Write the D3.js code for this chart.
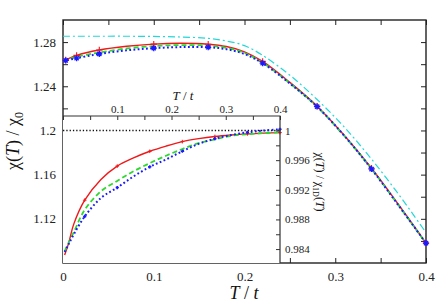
<!DOCTYPE html>
<html>
<head>
<meta charset="utf-8">
<script src="https://cdn.jsdelivr.net/npm/d3@7"></script>
<style>
  body { margin: 0; background: #fff; }
  svg { display: block; font-family: "Liberation Serif", "DejaVu Serif", serif; }
</style>
</head>
<body>
<svg id="chart"></svg>
<script>
// main panel: chi(T)/chi0 against T/t
let tMain = [0, 0.003, 0.015, 0.04, 0.07, 0.1, 0.13, 0.16, 0.18, 0.2, 0.22, 0.25, 0.28, 0.31, 0.34, 0.37, 0.4];
let redMain = [1.2620, 1.2638, 1.2680, 1.2728, 1.2762, 1.2782, 1.2789, 1.2781, 1.2760, 1.2712, 1.2625, 1.2435, 1.2220, 1.1955, 1.1658, 1.1325, 1.0980];
let greenMain = [1.2628, 1.2638, 1.2668, 1.2705, 1.2742, 1.2764, 1.2773, 1.2768, 1.2748, 1.2702, 1.2613, 1.2428, 1.2214, 1.1950, 1.1652, 1.1320, 1.0978];
let blueMain = [1.2630, 1.2634, 1.2654, 1.2693, 1.2725, 1.2745, 1.2755, 1.2753, 1.2736, 1.2692, 1.2609, 1.2425, 1.2216, 1.1952, 1.1650, 1.1318, 1.0980];
let cyanMain = [1.2853, 1.2853, 1.2853, 1.2853, 1.2853, 1.2851, 1.2846, 1.2834, 1.2810, 1.2768, 1.2680, 1.2500, 1.2280, 1.2030, 1.1740, 1.1420, 1.1075];
let markMain = [0.003, 0.015, 0.04, 0.1, 0.16, 0.22, 0.28, 0.34, 0.4];

// inset: chi(T)/chi_1D(T)
let tIn = [0.003, 0.01, 0.02, 0.04, 0.07, 0.1, 0.13, 0.16, 0.19, 0.22, 0.25, 0.28, 0.31, 0.34, 0.37, 0.4];
let redIn = [0.9832, 0.9847, 0.9874, 0.9906, 0.9934, 0.9952, 0.9963, 0.9972, 0.9979, 0.9985, 0.9989, 0.99920, 0.99940, 0.99955, 0.99965, 0.99972];
let greenIn = [0.9837, 0.9848, 0.9863, 0.9893, 0.9918, 0.9932, 0.9945, 0.9956, 0.9966, 0.9975, 0.9983, 0.9988, 0.9993, 0.99950, 0.99965, 0.99976];
let blueIn = [0.9836, 0.9846, 0.9860, 0.9884, 0.9909, 0.9923, 0.9938, 0.9951, 0.9961, 0.9972, 0.9982, 0.9989, 0.9994, 0.99975, 1.0000, 1.00016];
let markIn = [0.04, 0.1, 0.16, 0.22, 0.28, 0.34, 0.4];

let yTicksMain = [1.1, 1.12, 1.14, 1.16, 1.18, 1.2, 1.22, 1.24, 1.26, 1.28];
let yLabelsMain = [1.12, 1.16, 1.2, 1.24, 1.28];
let xTicks = [0, 0.05, 0.1, 0.15, 0.2, 0.25, 0.3, 0.35, 0.4];
let xLabels = [0, 0.1, 0.2, 0.3, 0.4];
let yTicksIn = [0.984, 0.986, 0.988, 0.99, 0.992, 0.994, 0.996, 0.998, 1];
let yLabelsIn = [0.984, 0.988, 0.992, 0.996, 1];
let xLabelsIn = [0.1, 0.2, 0.3, 0.4];

let width = 436;
let height = 306;
let padL = 63, padR = 426, padT = 20, padB = 263;
let inRight = 280, inTop = 116;

let svg = d3.select('#chart').attr('width', width).attr('height', height);

let xScale = d3.scaleLinear().domain([0, 0.4]).range([padL, padR]);
let yScale = d3.scaleLinear().domain([1.08, 1.30]).range([padB, padT]);
let xIn = d3.scaleLinear().domain([0, 0.4]).range([padL, inRight]);
let yIn = d3.scaleLinear().domain([0.98212, 1.00196]).range([padB, inTop]);

let fmt = v => String(+v.toFixed(3));
let isLabel = (list, v) => list.some(l => Math.abs(l - v) < 1e-9);

// main axes
let yAxis = d3.axisLeft(yScale).tickValues(yTicksMain).tickSize(-5).tickPadding(7)
  .tickFormat(v => isLabel(yLabelsMain, v) ? fmt(v) : '');
svg.append('g').attr('transform', 'translate(' + padL + ',0)').call(yAxis);
let yAxisR = d3.axisRight(yScale).tickValues(yTicksMain).tickSize(-5).tickFormat('');
svg.append('g').attr('transform', 'translate(' + padR + ',0)').call(yAxisR);
let xAxis = d3.axisBottom(xScale).tickValues(xTicks).tickSize(-5).tickPadding(9)
  .tickFormat(v => isLabel(xLabels, v) ? fmt(v) : '');
svg.append('g').attr('transform', 'translate(0,' + padB + ')').call(xAxis);
let xAxisT = d3.axisTop(xScale).tickValues(xTicks).tickSize(-5).tickFormat('');
svg.append('g').attr('transform', 'translate(0,' + padT + ')').call(xAxisT);

svg.selectAll('.domain').remove();
svg.selectAll('.tick line').attr('stroke', '#222').attr('stroke-width', 1);
svg.selectAll('.tick text').attr('font-size', 13).attr('fill', '#222')
  .attr('font-family', '"Liberation Serif", serif');

svg.append('rect').attr('x', padL).attr('y', padT)
  .attr('width', padR - padL).attr('height', padB - padT)
  .attr('fill', 'none').attr('stroke', '#222').attr('stroke-width', 1.4);

// series styles
let styles = {
  cyan: { color: '#22d8d8', width: 1.2, dash: '7,3,2,3' },
  red: { color: '#f01818', width: 1.4, dash: null },
  green: { color: '#2ed82e', width: 1.8, dash: '5,3' },
  blue: { color: '#1a1aff', width: 2, dash: '1.8,2.4' }
};

let drawLine = (g, xs, ys, sx, sy, st) => {
  let line = d3.line().x((d, i) => sx(xs[i])).y(d => sy(d)).curve(d3.curveCatmullRom.alpha(0.5));
  g.append('path').datum(ys).attr('d', line)
    .attr('fill', 'none').attr('stroke', st.color).attr('stroke-width', st.width)
    .attr('stroke-dasharray', st.dash);
};

let plus = s => 'M' + (-s) + ',0H' + s + 'M0,' + (-s) + 'V' + s;
let star = s => plus(s) + 'M' + (-s * 0.7) + ',' + (-s * 0.7) + 'L' + (s * 0.7) + ',' + (s * 0.7)
  + 'M' + (-s * 0.7) + ',' + (s * 0.7) + 'L' + (s * 0.7) + ',' + (-s * 0.7);

let drawMarks = (g, xs, ys, marks, sx, sy, shape, color, w) => {
  let pts = xs.map((t, i) => [t, ys[i]]).filter(p => isLabel(marks, p[0]));
  g.selectAll(null).data(pts).enter().append('path')
    .attr('d', shape)
    .attr('transform', p => 'translate(' + sx(p[0]) + ',' + sy(p[1]) + ')')
    .attr('fill', 'none').attr('stroke', color).attr('stroke-width', w);
};

let main = svg.append('g');
drawLine(main, tMain, cyanMain, xScale, yScale, styles.cyan);
drawLine(main, tMain, redMain, xScale, yScale, styles.red);
drawLine(main, tMain, greenMain, xScale, yScale, styles.green);
drawLine(main, tMain, blueMain, xScale, yScale, styles.blue);
drawMarks(main, tMain, redMain, markMain, xScale, yScale, plus(3.2), styles.red.color, 1.1);
drawMarks(main, tMain, blueMain, markMain, xScale, yScale, star(3), styles.blue.color, 1.3);

// inset
let inset = svg.append('g');
inset.append('rect').attr('x', padL).attr('y', inTop)
  .attr('width', inRight - padL).attr('height', padB - inTop).attr('fill', '#fff');

inset.append('line').attr('x1', padL).attr('x2', inRight)
  .attr('y1', yIn(1)).attr('y2', yIn(1))
  .attr('stroke', '#111').attr('stroke-width', 1.3).attr('stroke-dasharray', '1.3,2');

drawLine(inset, tIn, redIn, xIn, yIn, styles.red);
drawLine(inset, tIn, greenIn, xIn, yIn, styles.green);
drawLine(inset, tIn, blueIn, xIn, yIn, styles.blue);
drawMarks(inset, tIn, redIn, markIn, xIn, yIn, plus(1.8), styles.red.color, 1);
drawMarks(inset, tIn, blueIn, markIn, xIn, yIn, plus(1.6), styles.blue.color, 1.5);

let xAxisIn = d3.axisTop(xIn).tickValues(xTicks).tickSize(-4).tickPadding(3)
  .tickFormat(v => isLabel(xLabelsIn, v) ? fmt(v) : '');
inset.append('g').attr('transform', 'translate(0,' + inTop + ')').call(xAxisIn);
let yAxisIn = d3.axisRight(yIn).tickValues(yTicksIn).tickSize(-4).tickPadding(5)
  .tickFormat(v => isLabel(yLabelsIn, v) ? fmt(v) : '');
inset.append('g').attr('transform', 'translate(' + inRight + ',0)').call(yAxisIn);

inset.selectAll('.domain').remove();
inset.selectAll('.tick line').attr('stroke', '#333').attr('stroke-width', 1);
inset.selectAll('.tick text').attr('font-size', 11).attr('fill', '#222')
  .attr('font-family', '"Liberation Serif", serif');

inset.append('path')
  .attr('d', 'M' + padL + ',' + inTop + 'H' + inRight + 'V' + padB)
  .attr('fill', 'none').attr('stroke', '#333').attr('stroke-width', 1.2);

// titles
let yTitle = svg.append('text').attr('transform', 'translate(19,141) rotate(-90)')
  .attr('text-anchor', 'middle').attr('font-size', 18).attr('fill', '#111');
yTitle.append('tspan').text('χ(');
yTitle.append('tspan').attr('font-style', 'italic').text('T');
yTitle.append('tspan').text(') / χ');
yTitle.append('tspan').attr('font-size', 12).attr('dy', 4).text('0');

let xTitle = svg.append('text').attr('x', 244).attr('y', 299)
  .attr('text-anchor', 'middle').attr('font-size', 18).attr('fill', '#111');
xTitle.append('tspan').attr('font-style', 'italic').text('T');
xTitle.append('tspan').text(' / ');
xTitle.append('tspan').attr('font-style', 'italic').text('t');

let xTitleIn = svg.append('text').attr('x', 183).attr('y', 100)
  .attr('text-anchor', 'middle').attr('font-size', 13).attr('fill', '#111');
xTitleIn.append('tspan').attr('font-style', 'italic').text('T');
xTitleIn.append('tspan').text(' / ');
xTitleIn.append('tspan').attr('font-style', 'italic').text('t');

let yTitleIn = svg.append('text').attr('transform', 'translate(316,182) rotate(90)')
  .attr('text-anchor', 'middle').attr('font-size', 12).attr('fill', '#111');
yTitleIn.append('tspan').text('χ(');
yTitleIn.append('tspan').attr('font-style', 'italic').text('T');
yTitleIn.append('tspan').text(') / χ');
yTitleIn.append('tspan').attr('font-size', 8).attr('dy', 3).text('1D');
yTitleIn.append('tspan').attr('dy', -3).text('(');
yTitleIn.append('tspan').attr('font-style', 'italic').text('T');
yTitleIn.append('tspan').text(')');
</script>
</body>
</html>
